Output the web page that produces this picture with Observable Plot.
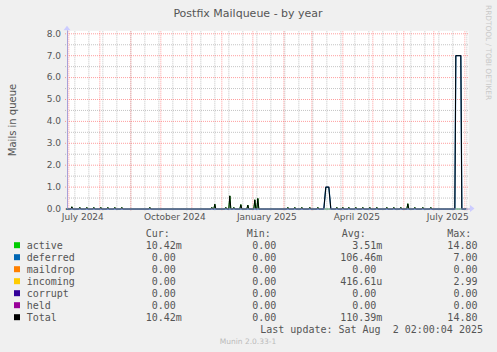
<!DOCTYPE html>
<html><head><meta charset="utf-8">
<script src="https://cdn.jsdelivr.net/npm/d3@7"></script>
<script src="https://cdn.jsdelivr.net/npm/@observablehq/plot@0.6"></script>
<style>
html,body{margin:0;padding:0;background:#f0f0f0;}
#chart{width:497px;height:352px;position:relative;}
svg text{white-space:pre;}
</style></head><body><div id="chart"></div>
<script>
// ---------- data ----------
const title = "Postfix Mailqueue - by year";
const yLabel = "Mails in queue";
const days = [
 "2024-06-29","2024-07-03","2024-07-04","2024-07-05","2024-07-11","2024-07-12","2024-07-13",
 "2024-07-18","2024-07-19","2024-07-20","2024-07-25","2024-07-26","2024-07-27",
 "2024-08-01","2024-08-02","2024-08-03","2024-08-08","2024-08-09","2024-08-10",
 "2024-08-15","2024-08-16","2024-08-17","2024-08-22","2024-08-23","2024-08-24",
 "2024-09-19","2024-09-20","2024-09-21","2024-11-20","2024-11-21","2024-11-22",
 "2024-11-23","2024-11-24","2024-11-25","2024-12-04","2024-12-05","2024-12-06",
 "2024-12-08","2024-12-09","2024-12-10","2024-12-12","2024-12-13","2024-12-14",
 "2024-12-19","2024-12-20","2024-12-21","2024-12-26","2024-12-27","2024-12-28",
 "2025-01-02","2025-01-03","2025-01-04","2025-01-05","2025-01-06","2025-01-07",
 "2025-02-04","2025-02-05","2025-02-06","2025-02-11","2025-02-12","2025-02-13",
 "2025-02-18","2025-02-19","2025-02-20","2025-02-26","2025-02-27","2025-02-28",
 "2025-03-06","2025-03-07","2025-03-08","2025-03-13","2025-03-15","2025-03-18","2025-03-20",
 "2025-03-25","2025-03-26","2025-03-27","2025-03-31","2025-04-01","2025-04-02",
 "2025-04-06","2025-04-07","2025-04-08","2025-04-13","2025-04-14","2025-04-15",
 "2025-04-20","2025-04-21","2025-04-22","2025-04-27","2025-04-28","2025-04-29",
 "2025-05-04","2025-05-05","2025-05-06","2025-05-14","2025-05-15","2025-05-16",
 "2025-05-21","2025-05-22","2025-05-23","2025-05-28","2025-05-29","2025-05-30",
 "2025-06-04","2025-06-05","2025-06-06","2025-06-11","2025-06-12","2025-06-13",
 "2025-06-19","2025-06-20","2025-06-21","2025-06-27","2025-06-28","2025-06-29",
 "2025-07-22","2025-07-23","2025-07-28","2025-07-29","2025-08-01","2025-08-02"
];
const activeVals = [
 0,0,0.1,0,0,0.07,0,
 0,0.07,0,0,0.07,0,
 0,0.07,0,0,0.07,0,
 0,0.07,0,0,0.07,0,
 0,0.07,0,0,0.07,0,
 0,0.22,0,0,0.07,0,
 0,0.6,0,0,0.07,0,
 0,0.2,0,0,0.18,0,
 0,0.42,0,0,0.48,0,
 0,0.07,0,0,0.07,0,
 0,0.07,0,0,0.07,0,
 0,0.07,0,0,0,0,0,
 0,0.07,0,0,0.07,0,
 0,0.07,0,0,0.07,0,
 0,0.07,0,0,0.07,0,
 0,0.07,0,0,0.07,0,
 0,0.07,0,0,0.07,0,
 0,0.24,0,0,0.07,0,
 0,0.07,0,0,0.07,0,
 0,0,0,0,0,0.01
];
const deferredVals = [
 0,0,0,0,0,0,0,
 0,0,0,0,0,0,
 0,0,0,0,0,0,
 0,0,0,0,0,0,
 0,0,0,0,0,0,
 0,0,0,0,0,0,
 0,0,0,0,0,0,
 0,0,0,0,0,0,
 0,0,0,0,0,0,
 0,0,0,0,0,0,
 0,0,0,0,0,0,
 0,0,0,0,1.0,1.0,0,
 0,0,0,0,0,0,
 0,0,0,0,0,0,
 0,0,0,0,0,0,
 0,0,0,0,0,0,
 0,0,0,0,0,0,
 0,0,0,0,0,0,
 0,0,0,0,0,0,
 0,7.0,7.0,0,0,0
];
const totalVals = [
 0,0,0.1,0,0,0.07,0,
 0,0.07,0,0,0.07,0,
 0,0.07,0,0,0.07,0,
 0,0.07,0,0,0.07,0,
 0,0.07,0,0,0.07,0,
 0,0.22,0,0,0.07,0,
 0,0.6,0,0,0.07,0,
 0,0.2,0,0,0.18,0,
 0,0.42,0,0,0.48,0,
 0,0.07,0,0,0.07,0,
 0,0.07,0,0,0.07,0,
 0,0.07,0,0,1.0,1.0,0,
 0,0.07,0,0,0.07,0,
 0,0.07,0,0,0.07,0,
 0,0.07,0,0,0.07,0,
 0,0.07,0,0,0.07,0,
 0,0.07,0,0,0.07,0,
 0,0.24,0,0,0.07,0,
 0,0.07,0,0,0.07,0,
 0,7.0,7.0,0,0,0.01
];
const tickDates = ["2024-07-15","2024-10-15","2025-01-15","2025-04-15","2025-07-15"];
const tickLabels = ["July 2024","October 2024","January 2025","April 2025","July 2025"];
const yTicks = [0,1,2,3,4,5,6,7,8];
const yMinor = [0.5,1.5,2.5,3.5,4.5,5.5,6.5,7.5];

const seriesNames = ["active","deferred","maildrop","incoming","corrupt","held","Total"];
const seriesColors = ["#00cc00","#0066b3","#ff8000","#ffcc00","#330099","#990099","#000000"];
const curVals = ["10.42m","0.00","0.00","0.00","0.00","0.00","10.42m"];
const minVals = ["0.00","0.00","0.00","0.00","0.00","0.00","0.00"];
const avgVals = ["3.51m","106.46m","0.00","416.61u","0.00","0.00","110.39m"];
const maxVals = ["14.80","7.00","0.00","2.99","0.00","0.00","14.80"];
const lastUpdate = "Last update: Sat Aug  2 02:00:04 2025";
const version = "Munin 2.0.33-1";
const watermark = "RRDTOOL / TOBI OETIKER";

// ---------- build ----------
const start = new Date(Date.UTC(2024,5,29,16));
const end = new Date(+start + 400*864e5);
const parse = s => new Date(s + "T00:00:00Z");
const mk = vals => days.map((d,i)=>({date: parse(d), v: vals[i]}));
const activeData = mk(activeVals), deferredData = mk(deferredVals), totalData = mk(totalVals);
const majorX = d3.utcMonth.range(start, end);
const minorX = d3.utcDay.range(parse("2024-07-07"), end, 14);
const tickD = tickDates.map(parse);
const labelMap = new Map(tickD.map((d,i)=>[+d, tickLabels[i]]));

const grey = "#555555";
const axisCol = "#a8a0d8";
const plot = Plot.plot({
  width: 497, height: 352,
  marginLeft: 67, marginRight: 30, marginTop: 33.3, marginBottom: 143.5,
  style: {background: "transparent", fontFamily: "DejaVu Sans", fontSize: "9px", color: grey, overflow: "visible"},
  x: {type: "utc", domain: [start, end], label: null},
  y: {domain: [0, 8], label: null},
  marks: [
    Plot.frame({fill: "white", stroke: null, insetTop: -3, insetRight: -1}),
    Plot.ruleY(yMinor, {stroke: "#8c8c8c", strokeOpacity: 0.5, strokeDasharray: "1,1", insetLeft: -2, insetRight: -2}),
    Plot.ruleX(minorX, {stroke: "#8c8c8c", strokeOpacity: 0.5, strokeDasharray: "1,1", insetTop: -2, insetBottom: -2}),
    Plot.ruleY(yTicks, {stroke: "#ff5050", strokeOpacity: 0.55, strokeDasharray: "1,1", insetLeft: -2, insetRight: -2}),
    Plot.ruleX(majorX, {stroke: "#ff5050", strokeOpacity: 0.55, strokeDasharray: "1,1", insetTop: -2, insetBottom: -2}),
    Plot.lineY(activeData, {x: "date", y: "v", stroke: seriesColors[0], strokeWidth: 1}),
    Plot.lineY(deferredData, {x: "date", y: "v", stroke: seriesColors[1], strokeWidth: 1.25}),
    Plot.lineY(totalData, {x: "date", y: "v", stroke: "#000", strokeWidth: 1}),
    Plot.ruleY([0], {stroke: axisCol, strokeWidth: 1, insetRight: -3}),
    Plot.ruleX([start], {stroke: axisCol, strokeWidth: 1, insetTop: -3}),
    Plot.axisY(yTicks, {label: null, tickSize: 0, tickPadding: 6.5, tickFormat: d => d.toFixed(1), fontSize: 9, fill: grey}),
    Plot.axisX(tickD, {label: null, tickSize: 0, tickPadding: 4.5, tickFormat: d => labelMap.get(+d), fontSize: 9, fill: grey})
  ]
});
document.getElementById("chart").appendChild(plot);

const svg = d3.select(plot);
const xs = plot.scale("x"), ys = plot.scale("y");
// axis arrows
const ax = xs.apply(end) + 3, ay = ys.apply(0);
svg.append("path").attr("d", `M${ax},${ay-3.5}L${ax+4.5},${ay}L${ax},${ay+3.5}Z`).attr("fill", "#ccccff");
const bx = xs.apply(start), by = ys.apply(8) - 3;
svg.append("path").attr("d", `M${bx-3.5},${by}L${bx},${by-4.5}L${bx+3.5},${by}Z`).attr("fill", "#ccccff");
// title
svg.append("text").attr("x", 248).attr("y", 16.8).attr("text-anchor", "middle")
  .attr("font-family", "DejaVu Sans").attr("font-size", 11).attr("fill", grey).text(title);
// y label
svg.append("text").attr("transform", "translate(15.5,120) rotate(-90)").attr("text-anchor", "middle")
  .attr("font-family", "DejaVu Sans").attr("font-size", 10).attr("fill", grey).text(yLabel);
// watermark
svg.append("text").attr("transform", "translate(485.5,5) rotate(90)").attr("text-anchor", "start")
  .attr("font-family", "DejaVu Sans").attr("font-size", 7.4).attr("fill", "#c8c8c8").text(watermark);

// legend
const mono = "DejaVu Sans Mono", cw = 6.02;
const lg = svg.append("g").attr("font-family", mono).attr("font-size", 10).attr("fill", grey).attr("text-anchor", "start");
const headY = 237, rowH = 12;
[["Cur:",145.7],["Min:",246.7],["Avg:",341.7],["Max:",447.3]].forEach(([t,x]) =>
  lg.append("text").attr("x", x).attr("y", headY).attr("text-anchor", "start").text(t));
const colEnds = [181.8, 282.3, 382.4, 483.5];
const endFor = (s, e) => /[a-zA-Z]$/.test(s) ? e : e - cw;
seriesNames.forEach((n, i) => {
  const y = headY + rowH * (i + 1);
  lg.append("rect").attr("x", 14).attr("y", y - 6.8).attr("width", 6).attr("height", 6).attr("fill", seriesColors[i]);
  lg.append("text").attr("x", 26.7).attr("y", y).attr("text-anchor", "start").text(n);
  [curVals[i], minVals[i], avgVals[i], maxVals[i]].forEach((v, j) =>
    lg.append("text").attr("x", endFor(v, colEnds[j])).attr("y", y).attr("text-anchor", "end").text(v));
});
lg.append("text").attr("x", 483).attr("y", headY + rowH * 8).attr("text-anchor", "end").text(lastUpdate);
svg.append("text").attr("x", 248).attr("y", 344).attr("text-anchor", "middle")
  .attr("font-family", "DejaVu Sans").attr("font-size", 7.5).attr("fill", "#bbbbbb").text(version);
</script></body></html>
